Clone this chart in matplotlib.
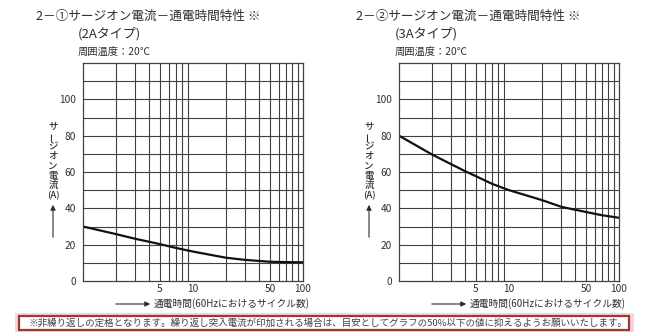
import matplotlib.pyplot as plt
from matplotlib.patches import Rectangle, FancyArrowPatch

plt.rcParams['font.family'] = ['Noto Sans CJK JP', 'DejaVu Sans']

# --- data: surge-on current vs. conduction time (cycles at 60Hz) ---
cycles = [1, 2, 3, 4, 5, 7, 10, 20, 30, 50, 70, 100]
current_2a = [30, 25.8, 23.2, 21.6, 20.3, 18.2, 16.2, 12.8, 11.6, 10.6, 10.4, 10.3]
current_3a = [80, 69.6, 64.2, 60.4, 57.7, 53.5, 50, 44.5, 40.8, 38, 36.2, 34.8]

titles = ['2－①サージオン電流－通電時間特性 ※', '2－②サージオン電流－通電時間特性 ※']
types = ['(2Aタイプ)', '(3Aタイプ)']
ambient = '周囲温度：20℃'
x_ticks = [5, 10, 50, 100]
y_ticks = [0, 20, 40, 60, 80, 100]
x_label = '通電時間(60Hzにおけるサイクル数)'
y_label_chars = ['サ', 'ー', 'ジ', 'オ', 'ン', '電', '流', '(A)']
note = '※非繰り返しの定格となります。繰り返し突入電流が印加される場合は、目安としてグラフの50%以下の値に抑えるようお願いいたします。'

W, H = 650, 332
TEXT = '#2e2e2e'
GRID = '#404040'

fig = plt.figure(figsize=(W / 100, H / 100), dpi=100)
fig.patch.set_facecolor('white')


def px(x, y):
    # pixel position (top-left origin) -> figure fraction
    return x / W, 1 - y / H


def panel(left, data):
    right = left + 220
    top, bottom = 63, 281
    ax = fig.add_axes([left / W, 1 - bottom / H, (right - left) / W, (bottom - top) / H])
    ax.set_xscale('log')
    ax.set_xlim(1, 100)
    ax.set_ylim(0, 120)

    grid_x = [m * d for d in (1, 10) for m in range(2, 10)]
    for gx in grid_x:
        ax.axvline(gx, color=GRID, lw=0.8)
    for gy in range(10, 120, 10):
        ax.axhline(gy, color=GRID, lw=0.8)
    for s in ax.spines.values():
        s.set_color(GRID)
        s.set_linewidth(0.9)

    ax.plot(cycles, data, color='#111111', lw=1.6, solid_capstyle='butt')

    ax.set_xticks(x_ticks)
    ax.set_xticklabels([str(t) for t in x_ticks])
    ax.xaxis.set_minor_locator(plt.NullLocator())
    ax.set_yticks(y_ticks)
    ax.tick_params(length=0, labelsize=7.3, labelcolor=TEXT)
    ax.tick_params(axis='x', pad=2.5)
    ax.tick_params(axis='y', pad=5)

    # vertical y-axis label, one character per row
    cx = left - 30
    for i, ch in enumerate(y_label_chars):
        rot = 90 if ch == 'ー' else 0
        fig.text(*px(cx, 127 + i * 9.8), ch, fontsize=6.8, color=TEXT,
                 ha='center', va='center', rotation=rot, fontweight='medium')
    fig.add_artist(FancyArrowPatch(px(cx, 240), px(cx, 202), transform=fig.transFigure,
                                   arrowstyle='-|>,head_length=3,head_width=1.5',
                                   color=TEXT, lw=0.8))

    # x-axis label with leading arrow
    fig.add_artist(FancyArrowPatch(px(right - 190, 304), px(right - 150, 304),
                                   transform=fig.transFigure,
                                   arrowstyle='-|>,head_length=3,head_width=1.5',
                                   color=TEXT, lw=0.8))
    fig.text(*px(right - 149, 304), x_label, fontsize=7, color=TEXT, ha='left', va='center')

    return ax


panel(83, current_2a)
panel(399, current_3a)

for tx, sx, t, ty in [(36, 78, titles[0], types[0]), (356, 395, titles[1], types[1])]:
    fig.text(*px(tx, 16), t, fontsize=9.1, color=TEXT, ha='left', va='center')
    fig.text(*px(sx, 34), ty, fontsize=9.4, color=TEXT, ha='left', va='center')
    fig.text(*px(sx, 52), ambient, fontsize=7.4, color=TEXT, ha='left', va='center')

# note box at the bottom
x0, y0 = px(15, 332)
fig.add_artist(Rectangle((x0, y0), 619 / W, 19 / H, transform=fig.transFigure,
                         facecolor='#fbd3e0', edgecolor='none'))
x1, y1 = px(19, 330)
fig.add_artist(Rectangle((x1, y1), 610 / W, 14 / H, transform=fig.transFigure,
                         facecolor='white', edgecolor='#9a3b30', lw=1.6))
fig.text(*px(29, 323), note, fontsize=6.85, color='#444444', ha='left', va='center')

fig.savefig('out.png', dpi=100, facecolor='white')
